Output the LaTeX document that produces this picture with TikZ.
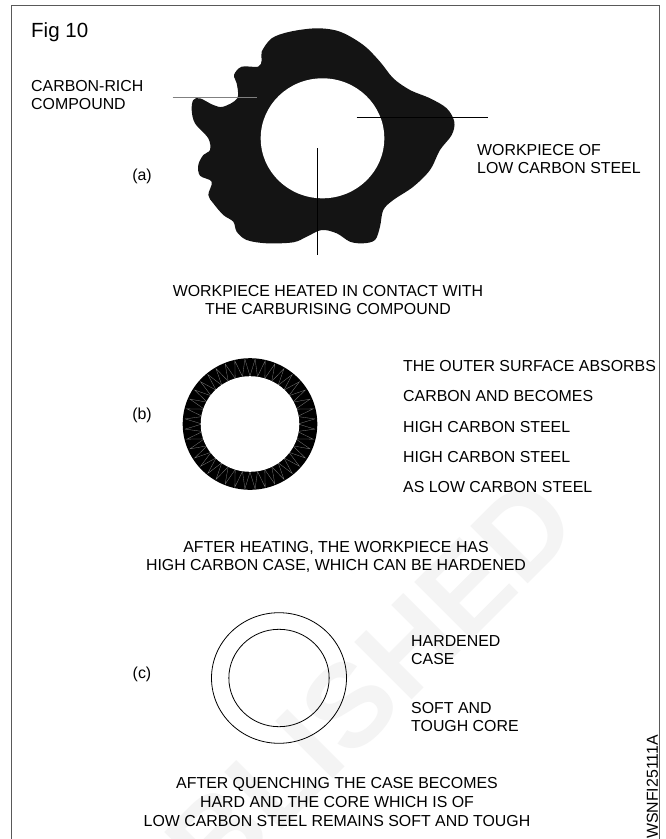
\documentclass[tikz,border=0pt]{standalone}
\usepackage{fontspec}
\setmainfont{Liberation Sans}
\usepackage{xcolor}
\usetikzlibrary{positioning,calc,shapes.geometric}
\definecolor{wmGray}{HTML}{F4F4F4}
\begin{document}
\begin{tikzpicture}[x=1pt,y=-1pt,font=\fontsize{15.9}{18.6}\selectfont,
  lab/.style={inner sep=0pt,align=left,anchor=west},
  captxt/.style={inner sep=0pt,align=center,anchor=center},
  tag/.style={inner sep=0pt,anchor=center},
  lead/.style={draw=black,line width=0.8pt},
  ringline/.style={draw=gray,line width=0.3pt},
  disc/.style={ellipse,inner sep=0pt}]
\useasboundingbox (0,0) rectangle (666,839);
\fill[white] (0,0) rectangle (666,839);
\node[inner sep=0pt,rotate=45,text=wmGray,font=\fontsize{118}{118}\selectfont\bfseries] (mark) at (313,742) {PUBLISHED};
% frame, open at the bottom
\draw[line width=0.8pt,gray!70!black] (11,839) -- (11,5) -- (659.5,5) -- (659.5,839);
\node[lab,font=\fontsize{20.5}{24}\selectfont] (figno) at (31,32) {Fig 10};
% (a) workpiece in the compound
\begin{scope}
  \fill[black!92] plot[smooth cycle,tension=0.55] coordinates {
    (316.7,28.3) (340,31.7) (363.3,45) (380,61.7) (393.3,78.3) (410,90) (430,98.3)
    (446.7,108.3) (454.3,121.7) (451.7,135) (440,150) (430,170) (413.3,186.7) (393.3,200)
    (383.3,210) (380,226.7) (375,240) (363.3,243.3) (350,241.7) (336.7,233.3) (321.7,230)
    (306.7,236.7) (293.3,242.3) (266.7,243.3) (246.7,240) (236.7,231.7) (233.3,221.7)
    (223.3,215) (213.3,203.3) (208.3,195) (211.7,181.7) (200,175.7) (198.3,165) (203.3,155)
    (210,150) (208.3,138.3) (195,123.3) (191.7,110) (193.3,100) (200,98.3) (213.3,105)
    (223.3,106.7) (237.3,98.3) (236.7,83.3) (234,75) (241.7,66.7) (258.3,66.7) (261.7,60)
    (261.7,51.7) (271.7,38.3) (290,31.7)};
  \node[disc,fill=white,minimum width=123.6pt,minimum height=120pt] (bore) at (322.5,138.3) {};
  \coordinate (compEnd) at (172.7,97);
  \coordinate (compIn) at (257,97);
  \coordinate (workEnd) at (487.7,117.3);
  \coordinate (workIn) at (356.7,117.3);
  \coordinate (stemTop) at (317.3,148.3);
  \coordinate (stemEnd) at (317.3,255);
  \draw[lead,gray] (compEnd) -- (compIn);
  \draw[lead] (workIn) -- (workEnd);
  \draw[lead] (stemTop) -- (stemEnd);
  \node[lab] (comp) at (31,95) {CARBON-RICH\\COMPOUND};
  \node[lab] (work) at (477,159) {WORKPIECE OF\\LOW CARBON STEEL};
  \node[tag] (taga) at (142,176) {(a)};
  \node[captxt] (capa) at (328,300) {WORKPIECE HEATED IN CONTACT WITH\\THE CARBURISING COMPOUND};
\end{scope}
% (b) case after heating
\begin{scope}
  \node[disc,fill=black,minimum width=134.6pt,minimum height=131.6pt] (case) at (250,424) {};
  \foreach \i in {0,...,39} {
    \draw[ringline] ($(case)+(\i*9:48)$) -- ($(case)+(\i*9+4.5:65)$) -- ($(case)+(\i*9+9:48)$);
  }
  \node[disc,fill=white,minimum width=98.6pt,minimum height=95.6pt] (core) at (250,424) {};
  \node[tag] (tagb) at (142,415) {(b)};
  \node[lab] (b1) at (403,366) {THE OUTER SURFACE ABSORBS};
  \node[lab] (b2) at (403,396) {CARBON AND BECOMES};
  \node[lab] (b3) at (403,427) {HIGH CARBON STEEL};
  \node[lab] (b4) at (403,457) {HIGH CARBON STEEL};
  \node[lab] (b5) at (403,487) {AS LOW CARBON STEEL};
  \node[captxt] (capb) at (336,557) {AFTER HEATING, THE WORKPIECE HAS\\HIGH CARBON CASE, WHICH CAN BE HARDENED};
\end{scope}
% (c) after quenching
\begin{scope}
  \node[disc,draw,line width=0.8pt,minimum width=135pt,minimum height=130.6pt] (outer) at (279,678) {};
  \node[disc,draw,line width=0.8pt,minimum width=100.3pt,minimum height=97.4pt] (inner) at (279,678) {};
  \node[tag] (tagc) at (142,674) {(c)};
  \node[lab] (hard) at (411,650) {HARDENED\\CASE};
  \node[lab] (soft) at (411,717) {SOFT AND\\TOUGH CORE};
  \node[captxt] (capc) at (337,802) {AFTER QUENCHING THE CASE BECOMES\\HARD AND THE CORE WHICH IS OF\\LOW CARBON STEEL REMAINS SOFT AND TOUGH};
\end{scope}
\node[inner sep=0pt,rotate=90,anchor=north west] (code) at (646.5,839) {WSNFI25111A};
\end{tikzpicture}
\end{document}
